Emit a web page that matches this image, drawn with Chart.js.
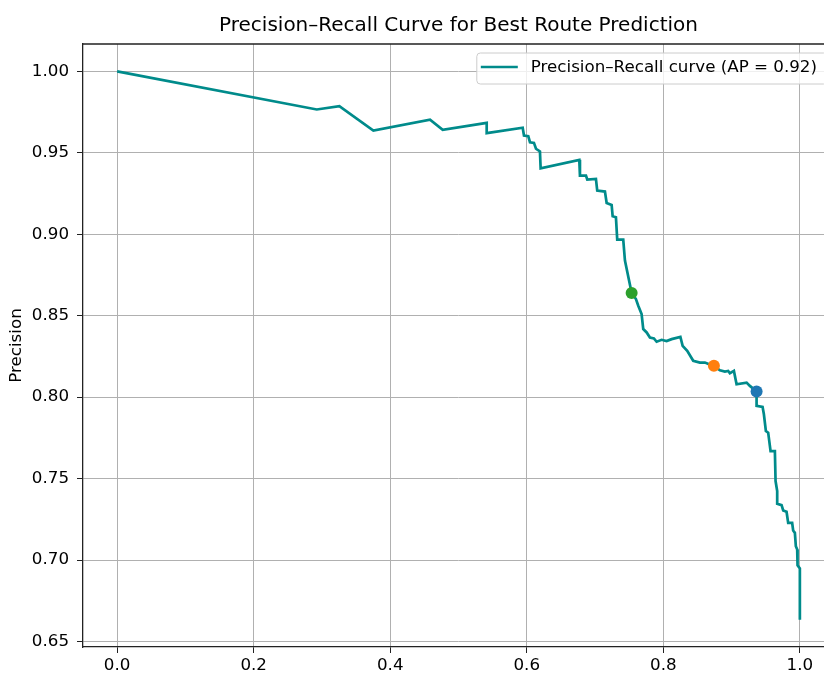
<!DOCTYPE html>
<html>
<head>
<meta charset="utf-8">
<title>Precision–Recall Curve for Best Route Prediction</title>
<script src="https://cdn.jsdelivr.net/npm/chart.js@4.4.1/dist/chart.umd.min.js"></script>
<style>
  html, body { margin: 0; padding: 0; background: #fff; overflow: hidden; }
  #wrap { position: relative; width: 870px; height: 675px; }
</style>
</head>
<body>
<div id="wrap"><canvas id="pr"></canvas></div>
<script>
// Precision–recall curve points (recall on x, precision on y)
const recall = [
  0.0000, 0.2924, 0.3255, 0.3753, 0.4583, 0.4769, 0.5413, 0.5413, 0.5940, 0.5959,
  0.6022, 0.6047, 0.6105, 0.6135, 0.6193, 0.6203, 0.6769, 0.6779, 0.6867, 0.6886,
  0.7013, 0.7032, 0.7145, 0.7170, 0.7243, 0.7258, 0.7306, 0.7325, 0.7413, 0.7438,
  0.7536, 0.7599, 0.7633, 0.7682, 0.7706, 0.7756, 0.7804, 0.7862, 0.7902, 0.7975,
  0.8048, 0.8122, 0.8250, 0.8283, 0.8350, 0.8438, 0.8536, 0.8609, 0.8672, 0.8741,
  0.8829, 0.8902, 0.8950, 0.8975, 0.9034, 0.9073, 0.9220, 0.9268, 0.9366, 0.9366,
  0.9454, 0.9473, 0.9502, 0.9536, 0.9571, 0.9634, 0.9644, 0.9668, 0.9668, 0.9732,
  0.9756, 0.9805, 0.9829, 0.9887, 0.9902, 0.9927, 0.9941, 0.9961, 0.9966, 1.0000,
  1.0000
];
const precision = [
  1.0000, 0.9766, 0.9787, 0.9637, 0.9703, 0.9641, 0.9684, 0.9621, 0.9654, 0.9606,
  0.9602, 0.9565, 0.9561, 0.9525, 0.9508, 0.9405, 0.9457, 0.9360, 0.9360, 0.9336,
  0.9340, 0.9268, 0.9262, 0.9192, 0.9180, 0.9110, 0.9104, 0.8967, 0.8967, 0.8838,
  0.8639, 0.8602, 0.8561, 0.8510, 0.8418, 0.8397, 0.8366, 0.8360, 0.8340, 0.8352,
  0.8344, 0.8356, 0.8370, 0.8315, 0.8284, 0.8223, 0.8212, 0.8212, 0.8202, 0.8192,
  0.8165, 0.8157, 0.8161, 0.8147, 0.8161, 0.8079, 0.8089, 0.8069, 0.8034, 0.7946,
  0.7940, 0.7895, 0.7792, 0.7782, 0.7669, 0.7669, 0.7485, 0.7423, 0.7345, 0.7337,
  0.7304, 0.7296, 0.7228, 0.7228, 0.7181, 0.7167, 0.7085, 0.7065, 0.6968, 0.6948,
  0.6634
];

// Highlighted operating points on the curve
const markRecall    = [0.9366, 0.8741, 0.7536];
const markPrecision = [0.8034, 0.8192, 0.8639];
const markColors    = ['#1f77b4', '#ff7f0e', '#2ca02c'];

// Axis ticks
const xTickValues = [0.0, 0.2, 0.4, 0.6, 0.8, 1.0];
const yTickValues = [0.65, 0.70, 0.75, 0.80, 0.85, 0.90, 0.95, 1.00];

const titleText  = 'Precision–Recall Curve for Best Route Prediction';
const yLabelText = 'Precision';
const legendText = 'Precision–Recall curve (AP = 0.92)';

const FONT = "'DejaVu Sans', 'Liberation Sans', sans-serif";
const LINE_COLOR = '#008b8b';

const curvePoints = recall.map((r, i) => ({ x: r, y: precision[i] }));
const markDatasets = markRecall.map((r, i) => ({
  label: 'mark' + i,
  data: [{ x: r, y: markPrecision[i] }],
  showLine: false,
  pointRadius: 6,
  pointHoverRadius: 6,
  pointBackgroundColor: markColors[i],
  pointBorderColor: markColors[i],
  pointBorderWidth: 0,
  order: 1
}));

// Title, y label, frame and legend drawn around the plot area
const decorations = {
  id: 'decorations',
  afterDraw(chart) {
    const { ctx, chartArea: a } = chart;
    ctx.save();
    // top and right frame lines
    ctx.strokeStyle = '#222';
    ctx.lineWidth = 1.3;
    ctx.beginPath();
    ctx.moveTo(a.left, a.top);
    ctx.lineTo(a.right, a.top);
    ctx.lineTo(a.right, a.bottom);
    ctx.stroke();

    // title
    ctx.fillStyle = '#000';
    ctx.font = '20px ' + FONT;
    ctx.textAlign = 'center';
    ctx.textBaseline = 'middle';
    ctx.fillText(titleText, (a.left + a.right) / 2, 26);

    // y axis label
    ctx.save();
    ctx.translate(17, (a.top + a.bottom) / 2);
    ctx.rotate(-Math.PI / 2);
    ctx.font = '16.7px ' + FONT;
    ctx.fillText(yLabelText, 0, 0);
    ctx.restore();

    // legend box
    ctx.font = '16.7px ' + FONT;
    const tw = ctx.measureText(legendText).width;
    const boxR = a.right - 7;
    const textEnd = boxR - 10;
    const textStart = textEnd - tw;
    const boxL = textStart - 54;
    const boxT = a.top + 9;
    const boxH = 31;
    const rr = 3.5;
    ctx.beginPath();
    ctx.moveTo(boxL + rr, boxT);
    ctx.lineTo(boxR - rr, boxT);
    ctx.arcTo(boxR, boxT, boxR, boxT + rr, rr);
    ctx.lineTo(boxR, boxT + boxH - rr);
    ctx.arcTo(boxR, boxT + boxH, boxR - rr, boxT + boxH, rr);
    ctx.lineTo(boxL + rr, boxT + boxH);
    ctx.arcTo(boxL, boxT + boxH, boxL, boxT + boxH - rr, rr);
    ctx.lineTo(boxL, boxT + rr);
    ctx.arcTo(boxL, boxT, boxL + rr, boxT, rr);
    ctx.closePath();
    ctx.fillStyle = 'rgba(255,255,255,0.8)';
    ctx.fill();
    ctx.strokeStyle = '#cccccc';
    ctx.lineWidth = 1;
    ctx.stroke();

    const cy = boxT + 14;
    ctx.strokeStyle = LINE_COLOR;
    ctx.lineWidth = 2.7;
    ctx.beginPath();
    ctx.moveTo(boxL + 4, cy);
    ctx.lineTo(boxL + 41, cy);
    ctx.stroke();

    ctx.fillStyle = '#000';
    ctx.textAlign = 'left';
    ctx.textBaseline = 'middle';
    ctx.fillText(legendText, textStart, cy + 1);
    ctx.restore();
  }
};

new Chart(document.getElementById('pr'), {
  type: 'scatter',
  data: {
    datasets: [
      {
        label: legendText,
        data: curvePoints,
        showLine: true,
        borderColor: LINE_COLOR,
        borderWidth: 2.7,
        pointRadius: 0,
        pointHoverRadius: 0,
        tension: 0,
        fill: false,
        order: 2
      },
      ...markDatasets
    ]
  },
  options: {
    responsive: true,
    maintainAspectRatio: false,
    animation: false,
    events: [],
    layout: { padding: { top: 44, right: 36, bottom: 0, left: 0 } },
    plugins: {
      legend: { display: false },
      title: { display: false },
      tooltip: { enabled: false }
    },
    scales: {
      x: {
        type: 'linear',
        min: -0.05,
        max: 1.05,
        afterBuildTicks: s => { s.ticks = xTickValues.map(v => ({ value: v })); },
        afterFit: s => { s.height = 28; },
        ticks: {
          callback: v => Number(v).toFixed(1),
          font: { family: FONT, size: 16.7 },
          color: '#000',
          padding: 3,
          maxRotation: 0,
          autoSkip: false
        },
        grid: { color: '#b0b0b0', lineWidth: 1, tickColor: '#222', tickLength: 6 },
        border: { display: true, color: '#222', width: 1.3 }
      },
      y: {
        type: 'linear',
        min: 0.6466,
        max: 1.0168,
        afterBuildTicks: s => { s.ticks = yTickValues.map(v => ({ value: v })); },
        afterFit: s => { s.width = 83; },
        ticks: {
          callback: v => Number(v).toFixed(2),
          font: { family: FONT, size: 16.7 },
          color: '#000',
          padding: 8,
          autoSkip: false
        },
        grid: { color: '#b0b0b0', lineWidth: 1, tickColor: '#222', tickLength: 6 },
        border: { display: true, color: '#222', width: 1.3 }
      }
    }
  },
  plugins: [decorations]
});
</script>
</body>
</html>
